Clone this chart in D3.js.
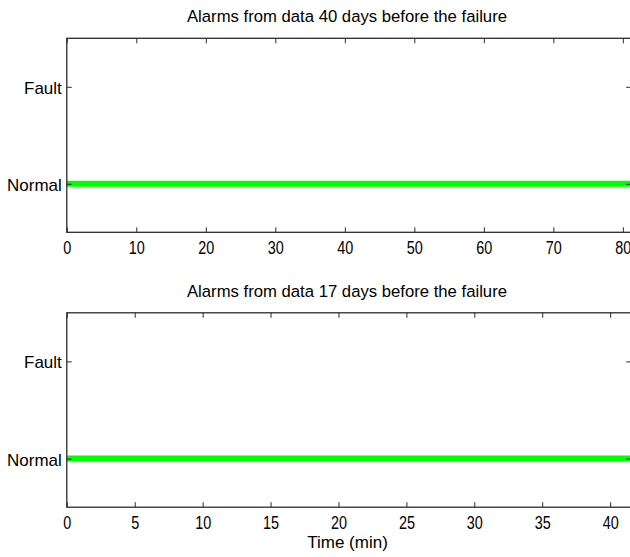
<!DOCTYPE html>
<html>
<head>
<meta charset="utf-8">
<script src="https://cdn.jsdelivr.net/npm/d3@7"></script>
<style>
  body { margin: 0; background: #fff; }
  svg { display: block; }
  text { font-family: "Liberation Sans", Arial, sans-serif; fill: #000; }
</style>
</head>
<body>
<svg id="chart" width="630" height="557"></svg>
<script>
// state levels shown on the y axis
var stateNames = ["Normal", "Fault"];
var stateValues = [0, 1];

// alarm record 40 days before failure (time in min, state)
var timeA = [0, 81.2];
var stateA = [0, 0];
var ticksA = [0, 10, 20, 30, 40, 50, 60, 70, 80];
var titleA = "Alarms from data 40 days before the failure";

// alarm record 17 days before failure
var timeB = [0, 41.55];
var stateB = [0, 0];
var ticksB = [0, 5, 10, 15, 20, 25, 30, 35, 40];
var titleB = "Alarms from data 17 days before the failure";

var xLabel = "Time (min)";

var svg = d3.select("#chart");

function drawPanel(opt) {
   var x = d3.scaleLinear().domain([0, d3.max(opt.time)]).range([opt.left, opt.right]),
      y = d3.scaleLinear().domain([-0.5, 1.5]).range([opt.bottom, opt.top]),
      g = svg.append("g"),
      tickLen = 5,
      axisColor = "#2b2b2b",
      line;

   //data line first, box on top of it
   line = d3.line()
      .x(function (d) { return x(d[0]); })
      .y(function (d) { return y(d[1]); });

   g.append("path")
      .datum(d3.zip(opt.time, opt.state))
      .attr("d", line)
      .attr("fill", "none")
      .attr("stroke", "#00ff00")
      .attr("stroke-width", 6);

   //bottom and top axes, ticks pointing inward
   g.append("g")
      .attr("transform", "translate(0," + opt.bottom + ")")
      .call(d3.axisBottom(x).tickValues(opt.ticks).tickSizeInner(-tickLen).tickSizeOuter(0))
      .call(function (s) {
         s.select(".domain").remove();
         s.selectAll("line").attr("stroke", axisColor);
         //the original font is tall and narrow
         s.selectAll("text")
            .attr("font-size", 16)
            .attr("font-family", null)
            .attr("fill", "#000")
            .attr("y", 0)
            .attr("dy", null)
            .attr("transform", "translate(0,22) scale(0.9,1.2)");
      });

   g.append("g")
      .attr("transform", "translate(0," + opt.top + ")")
      .call(d3.axisTop(x).tickValues(opt.ticks).tickSizeInner(-tickLen).tickSizeOuter(0).tickFormat(""))
      .call(function (s) {
         s.select(".domain").remove();
         s.selectAll("line").attr("stroke", axisColor);
      });

   //left and right axes with state names
   g.append("g")
      .attr("transform", "translate(" + opt.left + ",0)")
      .call(d3.axisLeft(y).tickValues(stateValues).tickSizeInner(-tickLen).tickSizeOuter(0).tickPadding(5)
         .tickFormat(function (d) { return stateNames[stateValues.indexOf(d)]; }))
      .call(function (s) {
         s.select(".domain").remove();
         s.selectAll("line").attr("stroke", axisColor);
         s.selectAll("text")
            .attr("font-size", 17)
            .attr("font-family", null)
            .attr("fill", "#000")
            .attr("dy", "0.38em");
      });

   g.append("g")
      .attr("transform", "translate(" + opt.right + ",0)")
      .call(d3.axisRight(y).tickValues(stateValues).tickSizeInner(-tickLen).tickSizeOuter(0).tickFormat(""))
      .call(function (s) {
         s.select(".domain").remove();
         s.selectAll("line").attr("stroke", axisColor);
      });

   //box
   g.append("rect")
      .attr("x", opt.left)
      .attr("y", opt.top)
      .attr("width", opt.right - opt.left)
      .attr("height", opt.bottom - opt.top)
      .attr("fill", "none")
      .attr("stroke", axisColor)
      .attr("stroke-width", 1.3);

   g.append("text")
      .attr("x", 347)
      .attr("y", opt.top - 16)
      .attr("text-anchor", "middle")
      .attr("font-size", 16.7)
      .text(opt.title);

   if (opt.xLabel) {
      g.append("text")
         .attr("x", 347.5)
         .attr("y", opt.bottom + 41)
         .attr("text-anchor", "middle")
         .attr("font-size", 17)
         .text(opt.xLabel);
   }
}

drawPanel({time: timeA, state: stateA, ticks: ticksA, title: titleA,
   left: 66.8, right: 631.2, top: 38.3, bottom: 232.3});
drawPanel({time: timeB, state: stateB, ticks: ticksB, title: titleB, xLabel: xLabel,
   left: 66.8, right: 631.2, top: 312.8, bottom: 507.2});
</script>
</body>
</html>
